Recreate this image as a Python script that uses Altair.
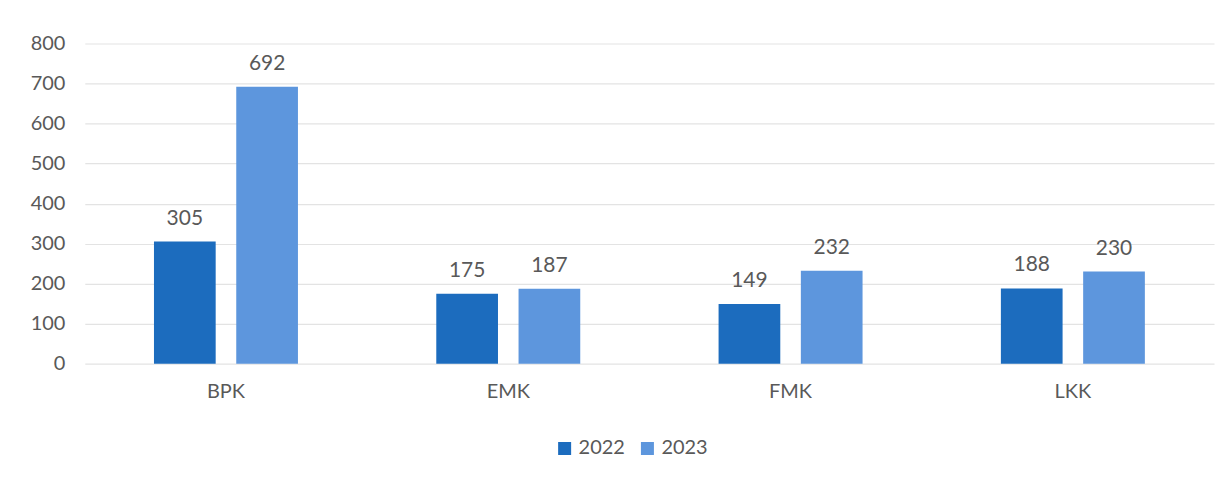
import altair as alt
import pandas as pd

categories = ["BPK", "EMK", "FMK", "LKK"]
years = ["2022", "2023"]
values_2022 = [305, 175, 149, 188]
values_2023 = [692, 187, 232, 230]

rows = []
for c, a, b in zip(categories, values_2022, values_2023):
    rows.append({"cat": c, "year": "2022", "value": a})
    rows.append({"cat": c, "year": "2023", "value": b})
df = pd.DataFrame(rows)

FONT = "Lato"
GRAY = "#595959"

x = alt.X("cat:N", sort=categories, title=None,
          scale=alt.Scale(paddingInner=0.49, paddingOuter=0.245),
          axis=alt.Axis(labelAngle=0, labelFontSize=20, labelColor=GRAY, labelFont=FONT,
                        ticks=False, domain=False, labelPadding=18))
xo = alt.XOffset("year:N", sort=years, scale=alt.Scale(paddingInner=0.25))
y = alt.Y("value:Q", title=None,
          scale=alt.Scale(domain=[0, 800], nice=False),
          axis=alt.Axis(values=list(range(0, 801, 100)), labelFontSize=20, labelColor=GRAY,
                        labelFont=FONT, ticks=False, domain=False, labelPadding=20,
                        gridColor="#e3e3e3", gridWidth=1.2))
color = alt.Color("year:N", sort=years, title=None,
                  scale=alt.Scale(domain=years, range=["#1c6cbe", "#5d96dd"]),
                  legend=alt.Legend(orient="none", legendX=471, legendY=396, direction="horizontal",
                                    symbolType="square", symbolSize=170, labelFontSize=20,
                                    labelColor=GRAY, labelFont=FONT, columnPadding=12,
                                    labelOffset=4, symbolStrokeWidth=0))

bars = alt.Chart(df).mark_bar().encode(x=x, xOffset=xo, y=y, color=color)
labels = alt.Chart(df).mark_text(baseline="bottom", dy=-13, fontSize=21, color=GRAY, font=FONT).encode(
    x=x, xOffset=xo, y=y, text="value:Q")

chart = (bars + labels).properties(
    width=1132, height=321,
    autosize=alt.AutoSizeParams(type="none"),
    padding={"left": 77, "top": 35, "right": 10, "bottom": 100},
).configure(background="white").configure_view(stroke=None, strokeWidth=0)

chart.save("out.html", embed_options={"renderer": "svg", "actions": False})
